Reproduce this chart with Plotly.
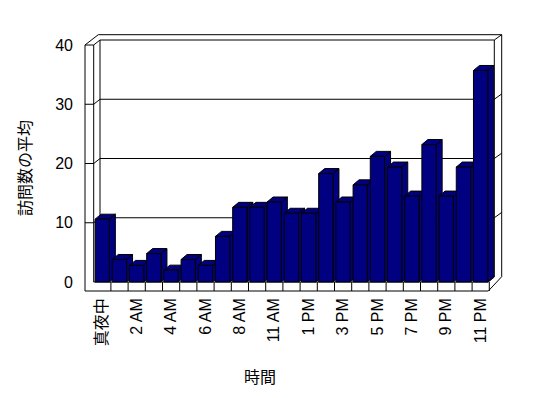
import plotly.graph_objects as go

# ---- data ----
hours = ["真夜中", "1 AM", "2 AM", "3 AM", "4 AM", "5 AM", "6 AM", "7 AM", "8 AM", "9 AM",
         "11 AM", "12 PM", "1 PM", "2 PM", "3 PM", "4 PM", "5 PM", "6 PM", "7 PM", "8 PM",
         "9 PM", "10 PM", "11 PM"]
visits = [10.6, 3.8, 2.8, 4.8, 2.0, 3.8, 2.8, 7.7, 12.6, 12.6, 13.5, 11.6, 11.6, 18.3,
          13.5, 16.4, 21.2, 19.4, 14.5, 23.2, 14.5, 19.4, 35.7]
y_ticks = [0, 10, 20, 30, 40]
x_title = "時間"
y_title = "訪問数の平均"

# ---- pixel layout helpers ----
W, H = 548, 398
PL, PR, PT, PB = 84, 504, 30, 294          # plot area in px
CAT0, CATW = 93.7, 17.2                    # px of category edge -0.5, px per category
Y0, YS = 282.0, 5.925                      # px of value 0, px per unit
DXP, DYP = 6.0, 5.0                        # 3D depth in px


def X(px):
    return -0.5 + (px - CAT0) / CATW


def Y(py):
    return (Y0 - py) / YS


def PX(px):
    return (px - PL) / (PR - PL)


def PY(py):
    return (PB - py) / (PB - PT)


ddx = DXP / CATW
ddy = DYP / YS
n = len(hours)
L_OFF, R_OFF = -0.42, 0.41

NAVY = "#000080"
BLK = "#000000"

# ---- bar faces ----
sx, sy, tx, ty, fx, fy = [], [], [], [], [], []
for i, v in enumerate(visits):
    l, r = i + L_OFF, i + R_OFF
    sx += [r, r + ddx, r + ddx, r, r, None]
    sy += [0, ddy, v + ddy, v, 0, None]
    tx += [l, l + ddx, r + ddx, r, l, None]
    ty += [v, v + ddy, v + ddy, v, v, None]
    fx += [l, r, r, l, l, None]
    fy += [0, 0, v, v, 0, None]

fig = go.Figure()
for xs, ys in [(sx, sy), (tx, ty), (fx, fy)]:
    fig.add_trace(go.Scatter(x=xs, y=ys, mode="lines", fill="toself", fillcolor=NAVY,
                             line=dict(color=BLK, width=1), hoverinfo="skip",
                             showlegend=False))

# ---- walls / floor decoration ----
shapes = []


def seg(x0, y0, x1, y1):
    shapes.append(dict(type="line", xref="x", yref="y", layer="below",
                       x0=X(x0), y0=Y(y0), x1=X(x1), y1=Y(y1),
                       line=dict(color=BLK, width=1)))


outline = [(85, 45), (98.3, 34.7), (501.7, 34.7), (501.7, 276.7), (488.3, 291), (85, 291)]
path = "M " + " L ".join(f"{X(a)},{Y(b)}" for a, b in outline) + " Z"
shapes.append(dict(type="path", xref="x", yref="y", layer="below", path=path,
                   fillcolor="white", line=dict(color=BLK, width=1)))
# back wall
seg(100, 40, 494.3, 40)
seg(494.3, 40, 494.3, 277)
seg(100, 40, 100, 277)
seg(494.3, 40, 501.7, 34.7)
# left wall
seg(93.7, 45, 93.7, 282)
seg(85, 45, 93.7, 45)
seg(93.7, 45, 100, 40)
# gridlines
for v in y_ticks[1:-1]:
    yf = Y0 - YS * v
    seg(85, yf, 93.7, yf)
    seg(93.7, yf, 100, yf - DYP)
    seg(100, yf - DYP, 494.3, yf - DYP)
    seg(494.3, yf - DYP, 501.7, yf - DYP - 5.3)
# floor
seg(93.7, 282, 488.3, 282)
seg(488.3, 282, 494.3, 277)
for k in range(1, n + 1):
    xb = CAT0 + k * CATW
    seg(xb, 282, xb, 291)

fig.update_layout(
    width=W, height=H,
    margin=dict(l=PL, r=W - PR, t=PT, b=H - PB, pad=0),
    paper_bgcolor="white", plot_bgcolor="white",
    shapes=shapes,
    showlegend=False,
    font=dict(family="Liberation Sans, Arial, Noto Sans CJK JP", size=16, color=BLK),
    xaxis=dict(range=[X(PL), X(PR)], tickmode="array", tickvals=list(range(0, n, 2)),
               ticktext=hours[::2], tickangle=-90, showgrid=False, zeroline=False,
               showline=False, ticks="",
               tickfont=dict(family="Liberation Sans, Noto Sans CJK JP", size=16)),
    yaxis=dict(range=[Y(PB), Y(PT)], tickmode="array", tickvals=y_ticks,
               showgrid=False, zeroline=False, showline=False, ticks="",
               ticklabelstandoff=10,
               tickfont=dict(family="Liberation Sans", size=16)),
    annotations=[
        dict(text=x_title, x=PX(260), y=PY(376), xref="paper", yref="paper",
             showarrow=False, xanchor="center", yanchor="middle",
             font=dict(family="Noto Sans CJK JP", size=16)),
        dict(text=y_title, x=PX(24), y=PY(168), xref="paper", yref="paper",
             showarrow=False, xanchor="center", yanchor="middle",
             textangle=-90, font=dict(family="Noto Sans CJK JP", size=16)),
    ],
)

fig.write_html("out.html")
